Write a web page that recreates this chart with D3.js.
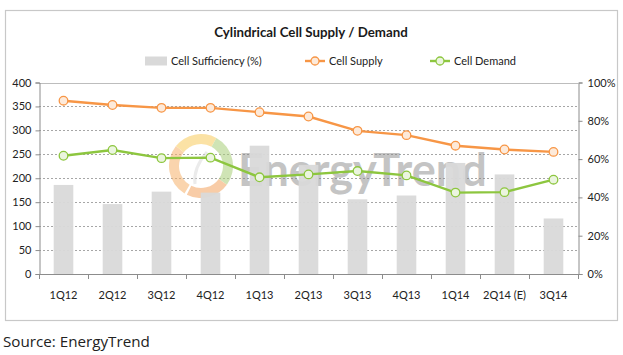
<!DOCTYPE html>
<html><head><meta charset="utf-8">
<script src="https://cdn.jsdelivr.net/npm/d3@7"></script>
<style>
body{margin:0;background:#fff;}
svg{display:block;font-family:Lato, "Open Sans", sans-serif;}
</style></head>
<body><svg id="c" width="623" height="355"></svg>
<script>
const categories = ["1Q12","2Q12","3Q12","4Q12","1Q13","2Q13","3Q13","4Q13","1Q14","2Q14 (E)","3Q14"];
const cellSupply = [362,353,347,347,338,329,299,290,268,260,255];
const cellDemand = [247,259,242,243,202,208,215,206,170,171,197];
const cellSufficiency = [46.5,36.5,43,42.5,67,57,39,41,58,52,29];
const leftTicks = [0,50,100,150,200,250,300,350,400];
const rightTicks = [0,20,40,60,80,100];

const svg = d3.select("#c");
const m = {left:39, right:578, top:82.5, bottom:274};
const supplyColor="#F79646", demandColor="#8DC63F", barColor="#D9D9D9", gridColor="#A6A6A6";

// outer frame
svg.append("rect").attr("x",5.5).attr("y",10.5).attr("width",612).attr("height",310)
  .attr("fill","#fff").attr("stroke","#C8C8C8").attr("stroke-width",1.2);

const x = d3.scaleBand().domain(categories).range([m.left,m.right]).paddingInner(0.6).paddingOuter(0.3);
const xb = d3.scaleBand().domain(categories).range([m.left,m.right]);
const yL = d3.scaleLinear().domain([0,400]).range([m.bottom,m.top]);
const yR = d3.scaleLinear().domain([0,100]).range([m.bottom,m.top]);

// title
svg.append("text").attr("x",311).attr("y",37).attr("text-anchor","middle")
  .attr("font-size",13.3).attr("font-weight","bold").attr("fill","#1a1a1a")
  .text("Cylindrical Cell Supply / Demand");

// gridlines
svg.append("g").selectAll("line").data(leftTicks.filter(d=>d>0&&d<400)).join("line")
  .attr("x1",m.left).attr("x2",m.right).attr("y1",d=>Math.round(yL(d))+0.5).attr("y2",d=>Math.round(yL(d))+0.5)
  .attr("stroke",gridColor).attr("stroke-width",1).attr("stroke-dasharray","2,2");
svg.append("line").attr("x1",m.left).attr("x2",m.right).attr("y1",Math.round(yL(400))+0.5).attr("y2",Math.round(yL(400))+0.5)
  .attr("stroke","#BDBDBD");

// watermark
const wm = svg.append("g").attr("opacity",0.55);
const arc = d3.arc().innerRadius(22).outerRadius(32);
const wcx=201, wcy=166;
const segs=[["#F6B26B",-2.6,-0.9],["#F9CB5C",-0.9,0.5],["#A9CF7A",0.5,2.2],["#F4A460",2.2,3.6]];
segs.forEach(s=>wm.append("path").attr("transform",`translate(${wcx},${wcy})`)
  .attr("d",arc({startAngle:s[1],endAngle:s[2]})).attr("fill",s[0]));
wm.append("path").attr("d",`M${wcx+6},${wcy-14} Q${wcx-8},${wcy+2} ${wcx-6},${wcy+18}`).attr("stroke","#dcdcdc").attr("stroke-width",3).attr("fill","none");
svg.append("text").attr("x",238).attr("y",186).attr("font-size",45).attr("font-weight","bold")
  .attr("fill","#8a8a8a").attr("opacity",0.5).attr("font-family","Lato, sans-serif").text("EnergyTrend");

// bars
svg.append("g").selectAll("rect").data(cellSufficiency).join("rect")
  .attr("x",(d,i)=>x(categories[i])).attr("width",x.bandwidth())
  .attr("y",d=>yR(d)).attr("height",d=>yR(0)-yR(d)).attr("fill",barColor).attr("opacity",0.95);

// axes
const axL = d3.axisLeft(yL).tickValues(leftTicks).tickSize(4).tickPadding(4);
const gL = svg.append("g").attr("transform",`translate(${m.left+0.5},0)`).call(axL);
const axR = d3.axisRight(yR).tickValues(rightTicks).tickSize(4).tickPadding(5).tickFormat(d=>d+"%");
const gR = svg.append("g").attr("transform",`translate(${m.right+0.5},0)`).call(axR);
const axB = d3.axisBottom(xb).tickSize(0).tickPadding(17);
const gB = svg.append("g").attr("transform",`translate(0,${m.bottom+0.5})`).call(axB);
svg.append("g").selectAll("line").data(d3.range(categories.length+1)).join("line")
  .attr("x1",i=>Math.round(m.left+i*xb.step())+0.5).attr("x2",i=>Math.round(m.left+i*xb.step())+0.5)
  .attr("y1",m.bottom).attr("y2",m.bottom+5).attr("stroke","#8C8C8C");
[gL,gR,gB].forEach(g=>{
  g.selectAll(".domain").attr("stroke","#8C8C8C");
  g.selectAll(".tick line").attr("stroke","#8C8C8C");
  g.selectAll("text").attr("font-size",11).attr("fill","#222").attr("font-family","Lato, sans-serif");
});
gB.select(".domain").attr("d",`M${m.left},0H${m.right}`);

// lines
const line = (arr)=>d3.line().x((d,i)=>xb(categories[i])+xb.bandwidth()/2).y(d=>yL(d))(arr);
function series(arr,color,fill){
  svg.append("path").attr("d",line(arr)).attr("fill","none").attr("stroke",color).attr("stroke-width",2.4);
  svg.append("g").selectAll("circle").data(arr).join("circle")
    .attr("cx",(d,i)=>xb(categories[i])+xb.bandwidth()/2).attr("cy",d=>yL(d)).attr("r",4.3)
    .attr("fill",fill).attr("stroke",color).attr("stroke-width",1.3);
}
series(cellSupply,supplyColor,"#FDEADA");
series(cellDemand,demandColor,"#EBF5DF");

// legend
const ly=61;
const lg = svg.append("g").attr("font-size",11).attr("fill","#222");
lg.append("rect").attr("x",145).attr("y",ly-4.5).attr("width",22).attr("height",9).attr("fill",barColor);
lg.append("text").attr("x",171).attr("y",ly+4).text("Cell Sufficiency (%)");
lg.append("line").attr("x1",305).attr("x2",325).attr("y1",ly).attr("y2",ly).attr("stroke",supplyColor).attr("stroke-width",2.4);
lg.append("circle").attr("cx",315).attr("cy",ly).attr("r",4).attr("fill","#FDEADA").attr("stroke",supplyColor).attr("stroke-width",1.3);
lg.append("text").attr("x",329).attr("y",ly+4).text("Cell Supply");
lg.append("line").attr("x1",430).attr("x2",450).attr("y1",ly).attr("y2",ly).attr("stroke",demandColor).attr("stroke-width",2.4);
lg.append("circle").attr("cx",440).attr("cy",ly).attr("r",4).attr("fill","#EBF5DF").attr("stroke",demandColor).attr("stroke-width",1.3);
lg.append("text").attr("x",454).attr("y",ly+4).text("Cell Demand");

// source
svg.append("text").attr("x",3).attr("y",347).attr("font-size",15.2).attr("fill","#222")
  .attr("font-family","'Open Sans', sans-serif").text("Source: EnergyTrend");
</script></body></html>
